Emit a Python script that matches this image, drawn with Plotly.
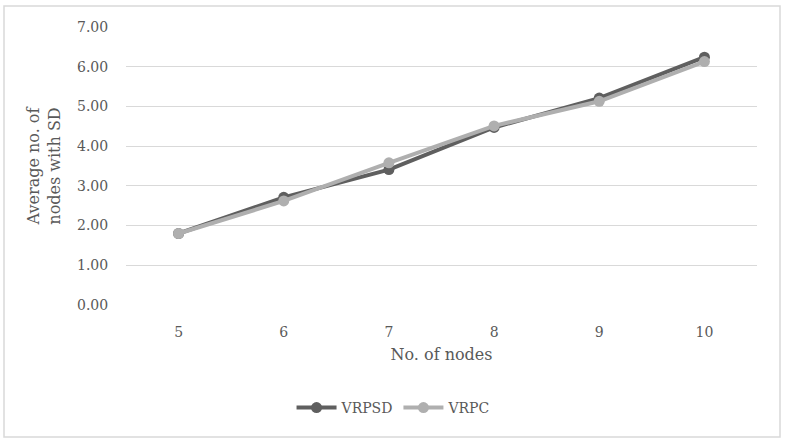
import plotly.graph_objects as go

nodes = [5, 6, 7, 8, 9, 10]
vrpsd = [1.80, 2.71, 3.41, 4.47, 5.21, 6.24]
vrpc = [1.80, 2.62, 3.58, 4.51, 5.13, 6.13]
y_ticks = [0, 1, 2, 3, 4, 5, 6, 7]

W, H = 786, 444
ml, mr, mt, mb = 126, 29, 27, 139
pw, ph = W - ml - mr, H - mt - mb

FONT = "DejaVu Serif"
TXT = "#595959"
FS = 14

fig = go.Figure()
fig.add_trace(go.Scatter(x=nodes, y=vrpsd, name="VRPSD", mode="lines+markers",
                         line=dict(color="#5f5f5f", width=4),
                         marker=dict(color="#5f5f5f", size=11)))
fig.add_trace(go.Scatter(x=nodes, y=vrpc, name="VRPC", mode="lines+markers",
                         line=dict(color="#afafaf", width=4),
                         marker=dict(color="#afafaf", size=11)))

def px2paper_x(px):
    return (px - ml) / pw

def px2paper_y(py):
    return (H - mb - py) / ph

fig.add_shape(type="rect", xref="paper", yref="paper",
              x0=px2paper_x(4), x1=px2paper_x(780),
              y0=px2paper_y(437), y1=px2paper_y(6),
              line=dict(color="#d9d9d9", width=1.5), layer="below")

fig.update_layout(
    width=W, height=H,
    margin=dict(l=ml, r=mr, t=mt, b=mb),
    paper_bgcolor="white", plot_bgcolor="white",
    font=dict(family=FONT, size=FS, color=TXT),
    showlegend=True,
    legend=dict(orientation="h", x=0.424, xanchor="center", y=px2paper_y(408), yanchor="middle",
                font=dict(family=FONT, size=FS, color=TXT), itemwidth=40,
                traceorder="normal"),
    xaxis=dict(range=[4.5, 10.5], tickvals=nodes, ticktext=[str(n) for n in nodes],
               showgrid=False, zeroline=False, showline=False,
               ticks="outside", ticklen=14, tickcolor="rgba(0,0,0,0)",
               tickfont=dict(family=FONT, size=FS, color=TXT),
               title=dict(text="No. of nodes", font=dict(family=FONT, size=16, color=TXT), standoff=10)),
    yaxis=dict(range=[0, 7], tickvals=y_ticks, ticktext=[f"{v:.2f}" for v in y_ticks],
               showgrid=True, gridcolor="#d9d9d9", gridwidth=1.3, zeroline=False, showline=False,
               ticks="outside", ticklen=14, tickcolor="rgba(0,0,0,0)",
               tickfont=dict(family=FONT, size=FS, color=TXT),
               title=dict(text="Average no. of<br>nodes with SD", font=dict(family=FONT, size=16, color=TXT), standoff=12)),
)

fig.write_html("out.html")
